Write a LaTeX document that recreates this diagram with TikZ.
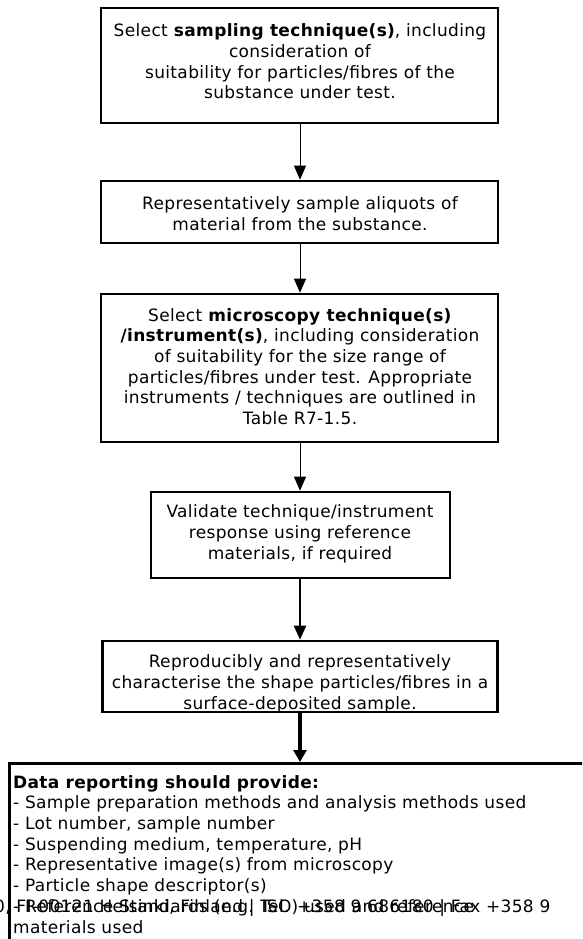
\documentclass[tikz,border=0pt]{standalone}
\usepackage{fontspec}
\setmainfont{DejaVu Sans}[LetterSpace=2]
\usetikzlibrary{arrows.meta}
\begin{document}
\begin{tikzpicture}[x=1pt,y=-1pt,
  box/.style={draw,line width=2.6pt,rectangle,inner sep=0pt},
  txt/.style={align=center,font=\fontsize{17}{20.7}\selectfont,inner sep=0pt},
  arr/.style={-{Triangle[width=12pt,length=14pt]},line width=1pt}]
\useasboundingbox (0,0) rectangle (582,939);
\clip (0,0) rectangle (582,939);
% boxes
\node[box,minimum width=397pt,minimum height=115pt] (b1) at (299.5,65.5) {};
\node[box,minimum width=397pt,minimum height=62pt] (b2) at (299.5,212) {};
\node[box,minimum width=397pt,minimum height=148pt] (b3) at (299.5,368) {};
\node[box,minimum width=299pt,minimum height=86pt] (b4) at (300.5,535) {};
\node[box,minimum width=395pt,minimum height=71pt] (b5) at (300,676.5) {};
\node[box,anchor=north west,minimum width=640pt,minimum height=230pt] (b6) at (8,762) {};
% texts
\node[txt] (t1) at (300,61.5) {Select \textbf{sampling technique(s)}, including\\consideration of\\suitability for particles/fibres of the\\substance under test.};
\node[txt] (t2) at (300,214) {Representatively sample aliquots of\\material from the substance.};
\node[txt] (t3) at (300,366.5) {Select \textbf{microscopy technique(s)}\\\textbf{/instrument(s)}, including consideration\\of suitability for the size range of\\particles/fibres under test. Appropriate\\instruments / techniques are outlined in\\Table R7-1.5.};
\node[txt] (t4) at (300,534) {Validate technique/instrument\\response using reference\\materials, if required};
\node[txt] (t5) at (300,684) {Reproducibly and representatively\\characterise the shape particles/fibres in a\\surface-deposited sample.};
\node[txt,align=left,anchor=north west] (t6) at (13,775) {\textbf{Data reporting should provide:}\\- Sample preparation methods and analysis methods used\\- Lot number, sample number\\- Suspending medium, temperature, pH\\- Representative image(s) from microscopy\\- Particle shape descriptor(s)\\- Reference Standards (e.g. ISO) used and reference\\materials used};
\node[txt,anchor=base west] (foot) at (-6,912.2) {0, FI-00121 Helsinki, Finland | Tel. +358 9 686180 | Fax +358 9};
% connectors
\coordinate (a1) at (300,0);
\draw[arr] (a1 |- b1.south) -- (a1 |- b2.north);
\draw[arr] (a1 |- b2.south) -- (a1 |- b3.north);
\draw[arr] (a1 |- b3.south) -- (a1 |- b4.north);
\draw[arr,line width=2pt] (a1 |- b4.south) -- (a1 |- b5.north);
\draw[arr,line width=3.5pt,-{Triangle[width=13pt,length=12pt]}] (a1 |- b5.south) -- (a1 |- b6.north);
\end{tikzpicture}
\end{document}
